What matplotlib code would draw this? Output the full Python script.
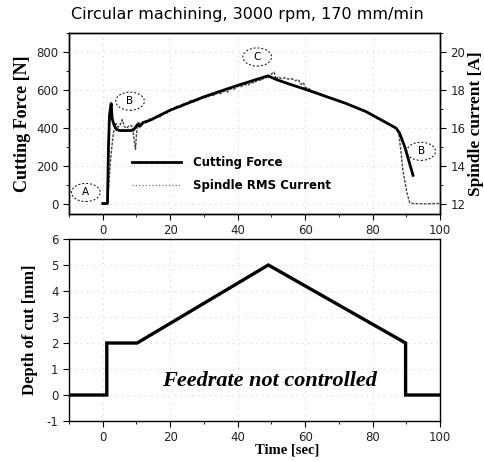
import matplotlib
matplotlib.use("Agg")
import matplotlib.pyplot as plt
from matplotlib.patches import Ellipse
from matplotlib.ticker import MultipleLocator

# donnees
temps_force = [0.0, 1.4, 1.7, 2.0, 2.5, 2.8, 3.3, 4.0, 5.0, 8.0, 9.0, 9.5, 10.3, 11.0, 12.0,
               14.0, 20.0, 30.0, 40.0, 49.0, 52.0, 56.0, 60.0, 66.0, 72.0, 78.0, 84.0,
               87.0, 88.0, 89.6, 92.0]
force = [5, 5, 300, 470, 530, 450, 420, 395, 388, 388, 390, 400, 420, 410, 430,
         442, 495, 565, 625, 675, 652, 628, 605, 568, 531, 488, 430,
         400, 375, 300, 153]

temps_courant = [0.0, 1.2, 1.6, 2.0, 2.4, 2.8, 3.2, 3.6, 4.0, 4.6, 5.2, 5.8, 6.4, 7.0, 7.6,
                 8.2, 8.8, 9.3, 9.7, 10.1, 10.6, 11.2, 12, 13, 14, 15, 16, 17, 18, 19, 20,
                 21, 22, 23, 24, 25, 26, 27, 28, 29, 30, 31, 32, 33, 34, 35, 36, 37, 38,
                 39, 40, 41, 42, 43, 44, 45, 46, 47, 48, 49, 50, 50.8, 51.5, 52, 53, 54,
                 55, 56, 57, 58, 58.8, 59.5, 60, 61, 62, 63, 64, 65, 66, 67, 68, 69, 70,
                 71, 72, 73, 74, 75, 76, 77, 78, 79, 80, 81, 82, 83, 84, 85, 86, 87, 87.8,
                 88.4, 89, 89.6, 90.2, 91, 92, 95, 100]
courant = [12.05, 12.05, 12.6, 13.6, 14.5, 15.2, 15.8, 16.1, 16.25, 16.05, 16.2, 16.45, 16.1,
           16.0, 16.1, 16.15, 16.1, 15.4, 14.9, 15.9, 16.35, 16.2, 16.35, 16.3, 16.5, 16.45,
           16.62, 16.6, 16.78, 16.8, 16.98, 17.0, 17.15, 17.1, 17.28, 17.25, 17.45, 17.38,
           17.45, 17.55, 17.6, 17.62, 17.75, 17.72, 17.85, 17.82, 17.95, 17.9, 18.08, 18.05,
           18.2, 18.18, 18.3, 18.25, 18.4, 18.38, 18.55, 18.5, 18.7, 18.62, 18.85, 18.95,
           18.55, 18.7, 18.6, 18.65, 18.58, 18.6, 18.5, 18.55, 18.3, 18.4, 18.15, 18.1, 17.95,
           17.92, 17.85, 17.78, 17.7, 17.62, 17.58, 17.5, 17.45, 17.35, 17.3, 17.22, 17.15,
           17.08, 17.0, 16.92, 16.85, 16.78, 16.68, 16.55, 16.45, 16.38, 16.28, 16.18, 16.12,
           16.0, 15.7, 14.8, 13.8, 13.2, 12.6, 12.1, 12.05, 12.03, 12.05]

temps_prof = [-10, 1.2, 1.2, 10.2, 49.1, 89.8, 89.8, 100]
profondeur = [0, 0, 2, 2, 5, 2, 0, 0]

etiquettes = ["A", "B", "C", "B"]
pos_etiquettes = [(-5.0, 63), (8.1, 542), (45.8, 774), (94.4, 279)]

police_axes = "DejaVu Sans"
police_titres = "Liberation Serif"
plt.rcParams["axes.unicode_minus"] = False

fig = plt.figure(figsize=(4.84, 4.62), dpi=100)
ax1 = fig.add_axes([0.1426, 0.5368, 0.7665, 0.3918])
ax2 = ax1.twinx()
ax3 = fig.add_axes([0.1426, 0.0887, 0.7665, 0.394])

ax1.plot(temps_force, force, color="black", lw=2.0, label="Cutting Force", zorder=3)
ax2.plot(temps_courant, courant, color="#444444", lw=1.0, ls=(0, (2, 1)), zorder=2)
ax1.plot([], [], color="#777777", lw=0.9, ls=":", label="Spindle RMS Current")

ax1.set_xlim(-10, 100)
ax1.set_ylim(-50, 900)
ax2.set_ylim(11.5, 21.0)
ax1.xaxis.set_major_locator(MultipleLocator(20))
ax1.xaxis.set_minor_locator(MultipleLocator(10))
ax1.yaxis.set_major_locator(MultipleLocator(200))
ax1.yaxis.set_minor_locator(MultipleLocator(100))
ax2.yaxis.set_major_locator(MultipleLocator(2))
ax2.yaxis.set_minor_locator(MultipleLocator(1))
ax1.set_zorder(ax2.get_zorder() + 1)
ax1.patch.set_visible(False)

for i in range(len(etiquettes)):
    x, y = pos_etiquettes[i]
    ax1.add_patch(Ellipse((x, y), 8.5, 95, fill=False, ls=(0, (2, 2)), lw=0.7, color="black"))
    ax1.text(x, y, etiquettes[i], ha="center", va="center", fontsize=7.5, family=police_axes)

leg = ax1.legend(loc="upper left", bbox_to_anchor=(0.14, 0.38), frameon=False,
                 handlelength=4.2, handletextpad=1.0, labelspacing=0.85,
                 prop={"family": police_axes, "weight": "bold", "size": 8.5})

ax3.plot(temps_prof, profondeur, color="black", lw=2.4, solid_joinstyle="miter")
ax3.set_xlim(-10, 100)
ax3.set_ylim(-1, 6)
ax3.xaxis.set_major_locator(MultipleLocator(20))
ax3.xaxis.set_minor_locator(MultipleLocator(10))
ax3.yaxis.set_major_locator(MultipleLocator(1))
ax3.text(49.5, 0.55, "Feedrate not controlled", ha="center", va="center", fontsize=16,
         family=police_titres, weight="bold", style="italic")

for ax in [ax1, ax3]:
    ax.grid(True, which="major", ls=(0, (1, 5)), color="#cccccc", lw=0.7)

for ax in [ax1, ax2, ax3]:
    ax.tick_params(which="major", direction="out", length=4, width=0.8, labelsize=8.5)
    ax.tick_params(which="minor", direction="out", length=2, width=0.6)
    for lab in ax.get_xticklabels() + ax.get_yticklabels():
        lab.set_family(police_axes)
        lab.set_color("#222222")
    for s in ax.spines.values():
        s.set_linewidth(1.0)

ax1.set_ylabel("Cutting Force [N]", family=police_titres, weight="bold", fontsize=13, labelpad=4)
ax2.set_ylabel("Spindle current [A]", family=police_titres, weight="bold", fontsize=12.5, labelpad=2)
ax3.set_ylabel("Depth of cut [mm]", family=police_titres, weight="bold", fontsize=12, labelpad=6)
ax3.set_xlabel("Time [sec]", family=police_titres, weight="bold", fontsize=10.5, va="top")
ax3.xaxis.set_label_coords(0.588, -0.125)

fig.text(247 / 484, 1 - 14 / 462, "Circular machining, 3000 rpm, 170 mm/min", ha="center",
         va="center", fontsize=11.5, family=police_axes)

fig.savefig("out.png", dpi=100)
